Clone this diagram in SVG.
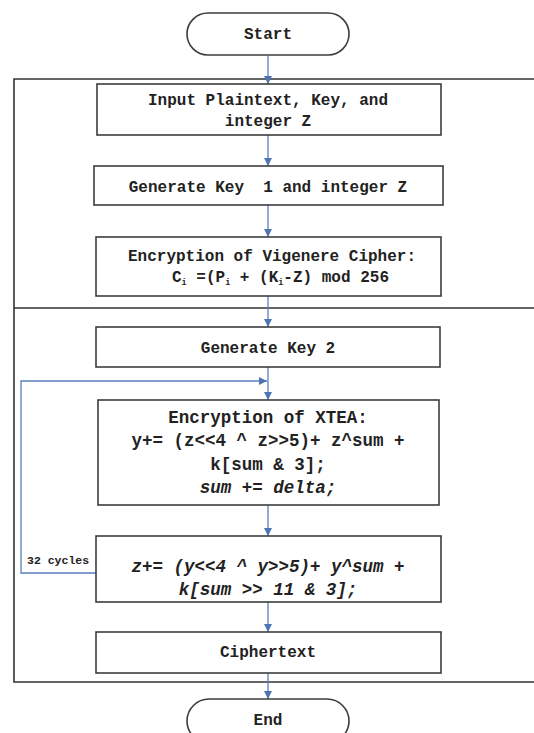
<svg xmlns="http://www.w3.org/2000/svg" width="534" height="733" viewBox="0 0 534 733">
  <style>
    .bg { fill: #ffffff; }
    .box { fill: #ffffff; stroke: #3c3c3c; stroke-width: 1.6; }
    .frame { fill: none; stroke: #333333; stroke-width: 1.6; }
    .conn { fill: none; stroke: #5a7fbf; stroke-width: 1.3; }
    .t { font-family: "Liberation Mono", "Courier New", monospace; font-weight: bold; font-size: 16px; fill: #222222; text-anchor: middle; white-space: pre; }
    .big { font-size: 17.5px; }
    .it { font-style: italic; }
    .small { font-size: 11.5px; text-anchor: start; }
    .sub { font-size: 8.5px; }
  </style>
  <defs>
    <marker id="arrow" viewBox="0 0 10 10" refX="10" refY="5" markerWidth="8" markerHeight="8" markerUnits="userSpaceOnUse" orient="auto">
      <path d="M0,0 L10,5 L0,10 z" fill="#4f74b3"/>
    </marker>
  </defs>

  <rect class="bg" x="0" y="0" width="534" height="733"/>

  <!-- enclosing frame: two sections split by a divider -->
  <g id="frame">
    <path class="frame" d="M534,79 H14 V682 H534"/>
    <line class="frame" x1="14" y1="308" x2="534" y2="308"/>
  </g>

  <g id="connectors">
    <line class="conn" x1="268" y1="56" x2="268" y2="84" marker-end="url(#arrow)"/>
    <line class="conn" x1="268" y1="135" x2="268" y2="166" marker-end="url(#arrow)"/>
    <line class="conn" x1="268" y1="205" x2="268" y2="237" marker-end="url(#arrow)"/>
    <line class="conn" x1="268" y1="296" x2="268" y2="327" marker-end="url(#arrow)"/>
    <line class="conn" x1="268" y1="367" x2="268" y2="400" marker-end="url(#arrow)"/>
    <line class="conn" x1="268" y1="505" x2="268" y2="536" marker-end="url(#arrow)"/>
    <line class="conn" x1="268" y1="602" x2="268" y2="632" marker-end="url(#arrow)"/>
    <line class="conn" x1="268" y1="673" x2="268" y2="699" marker-end="url(#arrow)"/>
    <!-- 32-round feedback loop -->
    <path class="conn" d="M96,573 H21 V381 H267" marker-end="url(#arrow)"/>
    <text class="t small" x="27" y="564">32 cycles</text>
  </g>

  <g id="start">
    <rect class="box" x="187" y="13" width="162" height="42" rx="21"/>
    <text class="t" x="268" y="39">Start</text>
  </g>

  <g id="input">
    <rect class="box" x="97" y="84" width="344" height="51"/>
    <text class="t" x="268" y="105">Input Plaintext, Key, and</text>
    <text class="t" x="268" y="126">integer Z</text>
  </g>

  <g id="key1">
    <rect class="box" x="94" y="166" width="349" height="39"/>
    <text class="t" x="268" y="192" xml:space="preserve">Generate Key  1 and integer Z</text>
  </g>

  <g id="vigenere">
    <rect class="box" x="96" y="237" width="345" height="59"/>
    <text class="t" x="272" y="261">Encryption of Vigenere Cipher:</text>
    <text class="t" x="172" y="282" style="text-anchor:start" xml:space="preserve">C<tspan class="sub" dy="3">i</tspan><tspan dy="-3"> =(P</tspan><tspan class="sub" dy="3">i</tspan><tspan dy="-3"> + (K</tspan><tspan class="sub" dy="3">i</tspan><tspan dy="-3">-Z) mod 256</tspan></text>
  </g>

  <g id="key2">
    <rect class="box" x="96" y="327" width="344" height="40"/>
    <text class="t" x="268" y="353">Generate Key 2</text>
  </g>

  <g id="xtea">
    <rect class="box" x="98" y="400" width="341" height="105"/>
    <text class="t big" x="268" y="423">Encryption of XTEA:</text>
    <text class="t big" x="268" y="446">y+= (z&lt;&lt;4 ^ z&gt;&gt;5)+ z^sum +</text>
    <text class="t big" x="268" y="470">k[sum &amp; 3];</text>
    <text class="t big it" x="268" y="493">sum += delta;</text>
  </g>

  <g id="xtea-z">
    <rect class="box" x="96" y="536" width="345" height="66"/>
    <text class="t big it" x="268" y="572">z+= (y&lt;&lt;4 ^ y&gt;&gt;5)+ y^sum +</text>
    <text class="t big it" x="268" y="595">k[sum &gt;&gt; 11 &amp; 3];</text>
  </g>

  <g id="ciphertext">
    <rect class="box" x="96" y="632" width="345" height="41"/>
    <text class="t" x="268" y="657">Ciphertext</text>
  </g>

  <g id="end">
    <rect class="box" x="187" y="699" width="162" height="44" rx="22"/>
    <text class="t" x="268" y="725">End</text>
  </g>
</svg>
